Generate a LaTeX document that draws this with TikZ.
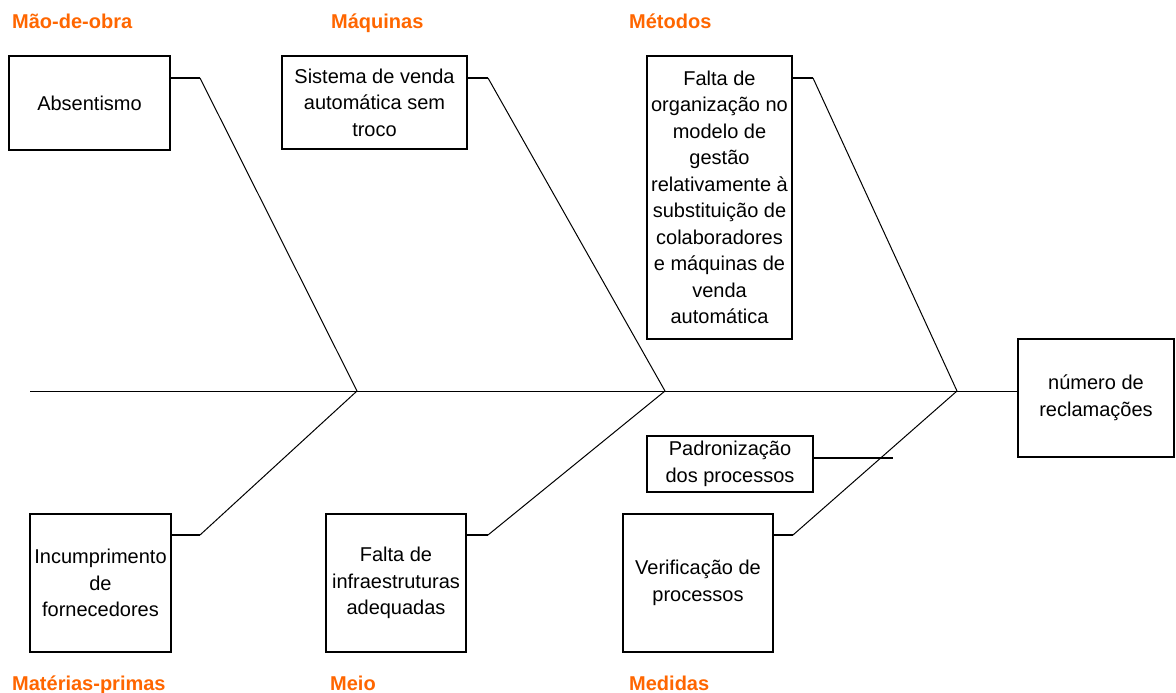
\documentclass[tikz,border=0pt]{standalone}
\usepackage{fontspec}
\setmainfont{Liberation Sans}
\definecolor{catorange}{HTML}{FF6600}
\tikzset{
    cause/.style={draw, line width=1.6pt, align=center, inner sep=0pt, outer sep=0pt,
        anchor=north west, font=\fontsize{20}{26.5}\selectfont},
    category/.style={anchor=base west, inner sep=0pt, text=catorange,
        font=\fontsize{20}{24}\selectfont\bfseries},
    stub/.style={line width=2pt},
    bone/.style={line width=1pt},
}

\begin{document}
\begin{tikzpicture}[x=1pt,y=-1pt]
    \useasboundingbox (0,0) rectangle (1176,693);

    \foreach \name/\x/\y/\txt in {catmo/12/29/Mão-de-obra, catmaq/331/29/Máquinas,
        catmet/629/29/Métodos, catmat/12/690/Matérias-primas,
        catmeio/330/690/Meio, catmed/629/690/Medidas} {
        \node[category] (\name) at (\x,\y) {\txt};
    }

    \node[cause, minimum width=161pt, minimum height=94pt] (absent) at (9,56) {Absentismo};
    \node[cause, minimum width=185pt, minimum height=93pt] (venda) at (282,56)
        {Sistema de venda\\automática sem\\troco};
    \node[cause, minimum width=145pt, minimum height=283pt] (gestao) at (647,56)
        {Falta de\\organização no\\modelo de\\gestão\\relativamente à\\substituição de\\colaboradores\\e máquinas de\\venda\\automática};
    \node[cause, minimum width=141pt, minimum height=138pt] (forn) at (30,514)
        {Incumprimento\\de\\fornecedores};
    \node[cause, minimum width=140pt, minimum height=138pt] (infra) at (326,514)
        {Falta de\\infraestruturas\\adequadas};
    \node[cause, minimum width=166pt, minimum height=56pt] (padron) at (647,436)
        {Padronização\\dos processos};
    \node[cause, minimum width=150pt, minimum height=138pt] (verif) at (623,514)
        {Verificação de\\processos};
    \node[cause, minimum width=156pt, minimum height=118pt] (effect) at (1018,339)
        {número de\\reclamações};

    \coordinate (tail) at (30,391);
    \coordinate (j1) at (357,391);
    \coordinate (j2) at (665,391);
    \coordinate (j3) at (957,391);
    \coordinate (s1) at (200,78);
    \coordinate (s2) at (488,78);
    \coordinate (s3) at (813,78);
    \coordinate (s4) at (200,535);
    \coordinate (s5) at (488,535);
    \coordinate (s6) at (793,535);
    \coordinate (s7) at (893,458);

    \draw[bone] (tail) -- (tail -| effect.west);
    \foreach \cause/\stub/\joint in {absent/s1/j1, venda/s2/j2, gestao/s3/j3,
        forn/s4/j1, infra/s5/j2, verif/s6/j3} {
        \draw[stub] (\stub -| \cause.east) -- (\stub);
        \draw[bone] (\stub) -- (\joint);
    }
    \draw[stub] (s7 -| padron.east) -- (s7);
\end{tikzpicture}
\end{document}
